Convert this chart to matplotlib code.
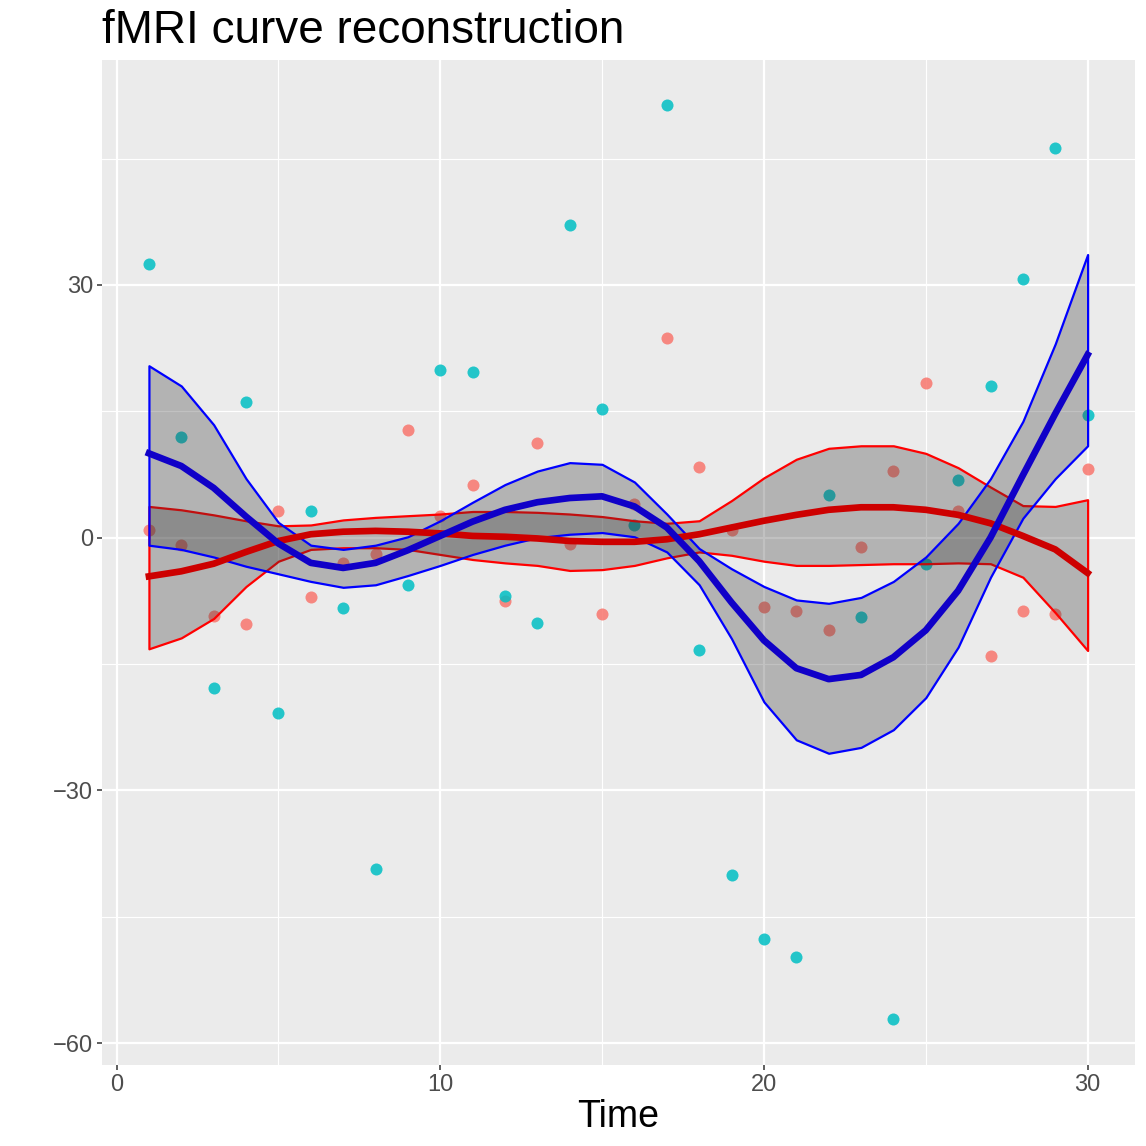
import numpy as np
import matplotlib
matplotlib.use("Agg")
import matplotlib.pyplot as plt
from matplotlib.ticker import MultipleLocator

plt.rcParams["font.family"] = ["Liberation Sans Narrow", "Liberation Sans", "DejaVu Sans"]

# time points
time = np.arange(1, 31)

# observed values (two groups)
obs_cyan = [32.5, 11.9, -17.8, 16.1, -20.8, 3.2, -8.4, -39.3, -5.6, 19.9,
            19.7, -6.9, -10.1, 37.1, 15.3, 1.5, 51.4, -13.4, -40.1, -47.6,
            -49.8, 5.0, -9.4, -57.1, -3.1, 6.8, 18.0, 30.7, 46.3, 14.5]
obs_red = [0.9, -0.9, -9.3, -10.3, 3.1, -7.0, -3.0, -2.0, 12.8, 2.6,
           6.2, -7.5, 11.2, -0.8, -9.1, 4.0, 23.7, 8.4, 0.9, -8.2,
           -8.7, -11.0, -1.1, 7.9, 18.3, 3.2, -14.1, -8.7, -9.1, 8.2]

# reconstructed curves with bands
red_mean = [-4.6, -4.0, -3.1, -1.7, -0.4, 0.4, 0.7, 0.8, 0.7, 0.5,
            0.2, 0.1, -0.1, -0.4, -0.5, -0.5, -0.2, 0.4, 1.2, 2.0,
            2.7, 3.3, 3.6, 3.6, 3.3, 2.7, 1.7, 0.2, -1.4, -4.2]
red_upper = [3.7, 3.3, 2.7, 2.0, 1.4, 1.5, 2.1, 2.4, 2.6, 2.8,
             3.1, 3.1, 3.0, 2.8, 2.5, 2.0, 1.7, 2.0, 4.4, 7.1,
             9.3, 10.6, 10.9, 10.9, 10.0, 8.3, 6.0, 3.8, 3.7, 4.5]
red_lower = [-13.2, -11.9, -9.6, -5.8, -2.8, -1.4, -1.2, -1.2, -1.4, -2.0,
             -2.6, -3.0, -3.3, -3.9, -3.8, -3.3, -2.4, -1.7, -2.1, -2.8,
             -3.3, -3.3, -3.2, -3.1, -3.1, -3.0, -3.1, -4.7, -8.9, -13.4]
blue_mean = [10.0, 8.5, 5.9, 2.5, -0.7, -3.0, -3.6, -3.0, -1.5, 0.2,
             1.9, 3.3, 4.2, 4.7, 4.9, 3.7, 1.2, -2.8, -7.7, -12.2,
             -15.5, -16.8, -16.3, -14.2, -11.0, -6.3, 0.0, 7.4, 14.7, 21.7]
blue_upper = [20.4, 18.0, 13.4, 7.0, 1.8, -0.9, -1.4, -0.9, 0.1, 2.0,
              4.2, 6.3, 7.9, 8.9, 8.7, 6.6, 2.8, -1.3, -3.7, -5.8,
              -7.4, -7.8, -7.1, -5.2, -2.3, 1.7, 7.0, 13.8, 23.0, 33.6]
blue_lower = [-0.9, -1.4, -2.3, -3.4, -4.3, -5.2, -5.9, -5.6, -4.5, -3.3,
              -2.0, -0.9, 0.0, 0.4, 0.6, 0.1, -1.7, -5.6, -12.0, -19.5,
              -24.0, -25.6, -24.9, -22.8, -19.0, -13.0, -4.7, 2.3, 7.0, 10.9]

fig = plt.figure(figsize=(11.46, 11.46), dpi=100)
ax = fig.add_axes([0.089, 0.0707, 0.901, 0.877])
ax.set_facecolor("#EBEBEB")

# points
ax.scatter(time, obs_red, s=75, color="#F8766D", alpha=0.85, linewidths=0, zorder=2)
ax.scatter(time, obs_cyan, s=75, color="#00BFC4", alpha=0.85, linewidths=0, zorder=2)

# bands
ax.fill_between(time, red_lower, red_upper, facecolor=(0.2, 0.2, 0.2, 0.3),
                edgecolor="#FF0000", linewidth=1.6, zorder=3)
ax.fill_between(time, blue_lower, blue_upper, facecolor=(0.2, 0.2, 0.2, 0.3),
                edgecolor="#0000FF", linewidth=1.6, zorder=3)

# means
ax.plot(time, red_mean, color="#CD0000", linewidth=4.8, zorder=4)
ax.plot(time, blue_mean, color="#1000C8", linewidth=4.8, zorder=4)

ax.set_xlim(-0.45, 31.45)
ax.set_ylim(-62.6, 56.7)
ax.set_xticks([0, 10, 20, 30])
ax.set_yticks([-60, -30, 0, 30])
ax.xaxis.set_minor_locator(MultipleLocator(5))
ax.yaxis.set_minor_locator(MultipleLocator(15))
ax.grid(which="major", color="white", linewidth=1.6, zorder=0)
ax.grid(which="minor", color="white", linewidth=0.8, zorder=0)
ax.set_axisbelow(True)
for s in ax.spines.values():
    s.set_visible(False)
ax.tick_params(which="major", length=3.5, width=1.1, color="#333333",
               labelcolor="#4D4D4D", labelsize=17, pad=3)
ax.tick_params(which="minor", length=0)

ax.set_xlabel("Time", fontsize=27, color="black", labelpad=2)
ax.set_title("fMRI curve reconstruction", fontsize=33, loc="left", pad=12, x=0.0)

fig.savefig("out.png", dpi=100)
